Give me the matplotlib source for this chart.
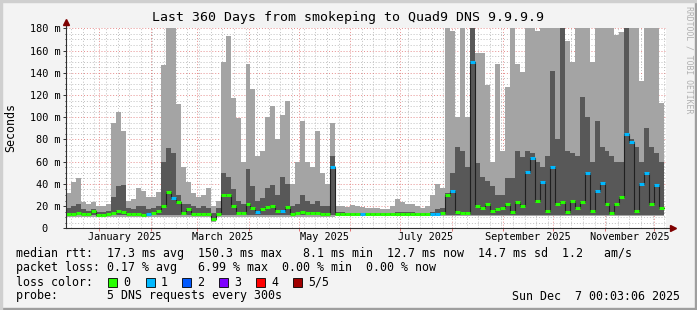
import numpy as np
import matplotlib
matplotlib.use("Agg")
import matplotlib.pyplot as plt
from matplotlib.patches import Rectangle

W, H = 697, 310
plt.rcParams["font.family"] = ["DejaVu Sans Mono"]

# --- data: 120 bins of 3 days, starting 2024-12-12 -------------------------
start = np.datetime64("2024-12-12")
bin_days = 3

# outer smoke (fastest .. slowest of the 5 pings), ms
smoke_lo = [10, 10, 10, 10, 10, 10, 10, 10, 10, 10, 10, 10, 10, 10, 10, 10, 10, 10, 10, 10,
            10, 10, 10, 10, 10, 10, 10, 10, 10, 6, 10, 10, 10, 10, 10, 10, 10, 10, 10, 10,
            10, 10, 10, 10, 10, 10, 10, 10, 10, 10, 10, 10, 10, 10, 11, 11, 11, 11, 11, 11,
            11, 11, 11, 11, 11, 11, 11, 11, 11, 11, 11, 11, 11, 11, 11, 11, 11, 11, 11, 11,
            11, 11, 11, 11, 11, 11, 11, 11, 11, 11, 11, 11, 11, 11, 11, 11, 11, 11, 11, 11,
            11, 11, 11, 11, 11, 11, 11, 11, 11, 11, 11, 11, 11, 11, 11, 11, 11, 11, 11, 11]
smoke_hi = [32, 42, 45, 24, 22, 24, 20, 20, 22, 95, 105, 88, 25, 26, 36, 34, 28, 28, 33, 147,
            180, 180, 112, 55, 42, 32, 28, 30, 36, 20, 25, 150, 173, 117, 99, 60, 148, 125, 65, 70,
            100, 110, 80, 102, 115, 40, 60, 97, 60, 55, 88, 50, 40, 95, 20, 20, 19, 21, 20, 19,
            18, 18, 18, 17, 17, 20, 26, 24, 22, 22, 20, 18, 20, 30, 40, 36, 180, 178, 100, 180,
            100, 180, 158, 158, 129, 60, 148, 70, 127, 180, 148, 141, 180, 180, 178, 180, 180, 180, 180, 180,
            169, 150, 180, 180, 180, 150, 180, 180, 180, 180, 174, 177, 180, 180, 180, 133, 180, 180, 180, 113]
# inner smoke (2nd .. 4th ping), ms
inner_lo = [12, 12, 12, 12, 12, 12, 11, 11, 12, 12, 12, 12, 12, 12, 12, 11, 12, 12, 12, 12,
            12, 12, 12, 12, 12, 12, 12, 12, 12, 7, 12, 12, 12, 12, 12, 12, 12, 12, 12, 12,
            12, 12, 12, 12, 12, 12, 12, 12, 12, 12, 12, 12, 12, 12, 12, 12, 12, 12, 12, 12,
            12, 12, 12, 12, 12, 12, 12, 12, 12, 12, 12, 12, 12, 12, 12, 12, 12, 12, 12, 12,
            12, 12, 12, 12, 12, 12, 12, 12, 12, 12, 12, 12, 12, 12, 12, 12, 12, 12, 12, 12,
            12, 12, 12, 12, 12, 12, 12, 12, 12, 12, 12, 12, 12, 12, 12, 12, 12, 12, 12, 12]
inner_hi = [18, 20, 22, 17, 16, 17, 15, 15, 16, 28, 38, 39, 18, 17, 20, 20, 17, 18, 20, 60,
            72, 68, 30, 22, 22, 20, 18, 20, 18, 14, 18, 50, 46, 35, 25, 22, 53, 38, 25, 27,
            36, 39, 30, 46, 40, 20, 22, 30, 25, 22, 25, 20, 20, 65, 15, 15, 14, 14, 14, 14,
            14, 14, 14, 14, 14, 14, 15, 15, 15, 15, 14, 14, 14, 15, 17, 18, 32, 50, 73, 70,
            55, 180, 59, 46, 43, 38, 30, 30, 45, 45, 70, 64, 70, 68, 60, 55, 65, 142, 80, 180,
            70, 68, 65, 118, 100, 60, 97, 73, 70, 65, 60, 60, 180, 80, 73, 60, 90, 73, 68, 60]
median = [13, 13, 14, 13, 13, 16, 12, 12, 13, 14, 16, 15, 13, 13, 13, 12, 13, 14, 16, 20,
          33, 27, 24, 14, 17, 13, 13, 13, 13, 8, 13, 30, 30, 20, 14, 14, 22, 18, 15, 17,
          19, 20, 16, 16, 19, 13, 14, 15, 14, 14, 14, 13, 13, 55, 13, 13, 13, 13, 13, 13,
          13, 13, 13, 13, 13, 13, 13, 13, 13, 13, 13, 13, 13, 13, 13, 14, 30, 34, 15, 14,
          14, 150, 20, 18, 22, 16, 17, 18, 22, 15, 24, 20, 51, 63, 25, 42, 16, 55, 22, 24,
          15, 25, 18, 24, 50, 16, 34, 41, 22, 14, 22, 28, 85, 78, 16, 40, 50, 22, 39, 18]
# packets lost out of 5 for each bin
loss = [0, 0, 0, 0, 0, 0, 0, 0, 0, 0, 0, 0, 0, 0, 0, 0, 1, 0, 0, 0,
        0, 1, 0, 0, 0, 0, 0, 0, 0, 0, 0, 0, 0, 0, 0, 0, 0, 0, 1, 0,
        0, 0, 0, 1, 0, 0, 0, 0, 0, 0, 0, 0, 0, 1, 0, 0, 0, 0, 0, 1,
        0, 0, 0, 0, 0, 0, 0, 0, 0, 0, 0, 0, 0, 1, 1, 0, 0, 1, 0, 0,
        0, 1, 0, 0, 0, 0, 0, 0, 0, 0, 0, 0, 1, 1, 0, 1, 0, 1, 0, 0,
        0, 0, 0, 0, 1, 0, 1, 1, 0, 0, 0, 0, 1, 1, 0, 1, 1, 0, 1, 0]

loss_labels = ["0", "1", "2", "3", "4", "5/5"]
loss_colors = ["#26ff00", "#00b8ff", "#0059ff", "#7e00ff", "#ff0000", "#a10000"]

month_starts = ["2025-01-01", "2025-02-01", "2025-03-01", "2025-04-01", "2025-05-01", "2025-06-01",
                "2025-07-01", "2025-08-01", "2025-09-01", "2025-10-01", "2025-11-01", "2025-12-01"]
month_labels = ["January 2025", "March 2025", "May 2025", "July 2025", "September 2025", "November 2025"]
label_months = [("2025-01-01", "2025-02-01"), ("2025-03-01", "2025-04-01"), ("2025-05-01", "2025-06-01"),
                ("2025-07-01", "2025-08-01"), ("2025-09-01", "2025-10-01"), ("2025-11-01", "2025-12-01")]

y_major = [0, 20, 40, 60, 80, 100, 120, 140, 160, 180]
y_labels = ["0  ", "20 m", "40 m", "60 m", "80 m", "100 m", "120 m", "140 m", "160 m", "180 m"]

title = "Last 360 Days from smokeping to Quad9 DNS 9.9.9.9"
legend_rows = [
    "median rtt:  17.3 ms avg  150.3 ms max   8.1 ms min  12.7 ms now  14.7 ms sd  1.2   am/s",
    "packet loss: 0.17 % avg   6.99 % max  0.00 % min  0.00 % now",
]
probe_row = "probe:       5 DNS requests every 300s"
stamp = "Sun Dec  7 00:03:06 2025"


def day(d):
    return (np.datetime64(d) - start) / np.timedelta64(1, "D")


# --- figure ---------------------------------------------------------------
fig = plt.figure(figsize=(W / 100, H / 100), dpi=100, facecolor="#f3f3f3")
ax = fig.add_axes([66 / W, 1 - 228.3 / H, 600 / W, 200 / H])
ax.set_facecolor("white")

n = len(median)
edges = np.arange(n + 1) * bin_days


def ext(v):
    v = np.minimum(np.asarray(v, dtype=float), 180)
    return np.append(v, v[-1])


ax.fill_between(edges, ext(smoke_lo), ext(smoke_hi), step="post", color="#a4a4a4", lw=0, zorder=2)
ax.fill_between(edges, ext(inner_lo), ext(inner_hi), step="post", color="#585858", lw=0, zorder=3)
ax.step(edges, ext(median), where="post", color="#202020", lw=0.8, zorder=4)
for lvl, col in enumerate(loss_colors):
    idx = [i for i in range(n) if loss[i] == lvl]
    if idx:
        ax.hlines([median[i] for i in idx], edges[idx], edges[np.array(idx) + 1],
                  color=col, lw=2.2, zorder=5)

ax.set_xlim(0, 361)
ax.set_ylim(0, 180)

# grid
ax.set_yticks(y_major, y_labels)
ax.set_yticks([v for v in range(0, 181, 5) if v % 20], minor=True)
ax.set_xticks([day(m) for m in month_starts], [])
ax.set_xticks(np.arange(day("2024-12-15"), 361, 7), minor=True)
ax.grid(which="major", color="#e07070", linestyle=(0, (1, 2)), lw=0.7, alpha=0.8)
ax.grid(which="minor", color="#b0b0b0", linestyle=(0, (1, 2)), lw=0.7, alpha=0.8)
ax.set_axisbelow(True)
ax.tick_params(axis="y", which="major", length=2, width=0.7, pad=2, labelsize=7.4, color="#303030")
ax.tick_params(axis="y", which="minor", length=1, width=0.7, color="#303030")
ax.tick_params(axis="x", which="major", length=2, width=0.7, color="#e07070")
ax.tick_params(axis="x", which="minor", length=0)

for s in ["top", "right"]:
    ax.spines[s].set_visible(False)
for s in ["left", "bottom"]:
    ax.spines[s].set_color("#303030")
    ax.spines[s].set_linewidth(0.8)
    ax.spines[s].set_zorder(6)

# axis arrows
ax.plot([0, 0], [1, 1.03], transform=ax.transAxes, clip_on=False, color="#303030", lw=0.8)
ax.plot([0], [1.03], marker="^", ms=4, color="#7f0000", transform=ax.transAxes, clip_on=False)
ax.plot([1, 1.012], [0, 0], transform=ax.transAxes, clip_on=False, color="#303030", lw=0.8)
ax.plot([1.012], [0], marker=">", ms=4, color="#7f0000", transform=ax.transAxes, clip_on=False)

for lab, (a, b) in zip(month_labels, label_months):
    ax.text((day(a) + day(b)) / 2, -0.045, lab, transform=ax.get_xaxis_transform(),
            ha="center", va="center", fontsize=7.4)


def ftext(x, y, s, **kw):
    fig.text(x / W, 1 - y / H, s, **kw)


ftext(348, 18, title, ha="center", va="center", fontsize=9.5)
ftext(11, 128, "Seconds", rotation=90, ha="center", va="center", fontsize=8.4)
ftext(689, 60, "RRDTOOL / TOBI OETIKER", rotation=270, ha="center", va="center",
      fontsize=5.9, color="#b0b0b0")

for k, row in enumerate(legend_rows):
    ftext(16, 254 + 14 * k, row, ha="left", va="center", fontsize=8.4)
ftext(16, 282, "loss color:", ha="left", va="center", fontsize=8.4)
box_x = [108, 146, 182, 219, 256, 293]
for bx, lab, col in zip(box_x, loss_labels, loss_colors):
    fig.patches.append(Rectangle((bx / W, 1 - 287 / H), 9 / W, 9 / H, transform=fig.transFigure,
                                 facecolor=col, edgecolor="black", lw=0.6))
    ftext(bx + 15, 282, lab, ha="left", va="center", fontsize=8.4)
ftext(16, 296, probe_row, ha="left", va="center", fontsize=8.4)
ftext(680, 296, stamp, ha="right", va="center", fontsize=8.4)

# frame
fig.patches.append(Rectangle((0, 0), 1, 2 / H, transform=fig.transFigure, color="#9e9e9e"))
fig.patches.append(Rectangle((1 - 2 / W, 0), 2 / W, 1, transform=fig.transFigure, color="#9e9e9e"))
fig.patches.append(Rectangle((0, 1 - 2 / H), 1, 2 / H, transform=fig.transFigure, color="#cfcfcf"))
fig.patches.append(Rectangle((0, 0), 2 / W, 1, transform=fig.transFigure, color="#cfcfcf"))

fig.savefig("out.png", dpi=100, facecolor=fig.get_facecolor())
